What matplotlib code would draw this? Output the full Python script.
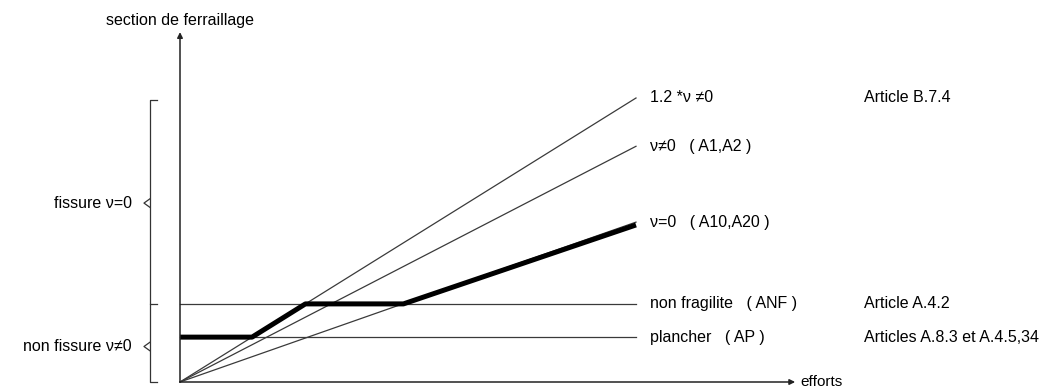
import matplotlib.pyplot as plt

# effort axis normalised so the labelled lines end at x = 1
x_end = [0.0, 1.0]

# reinforcement section (same normalisation)
y_12nu = [0.0, 1.0]     # 1.2 * nu != 0
y_nu = [0.0, 0.83]      # nu != 0  (A1, A2)
y_nu0 = [0.0, 0.563]    # nu = 0   (A10, A20)
y_anf = 0.275           # non fragilite
y_ap = 0.158            # plancher

# governing section (thick line) breakpoints
gov_x = [0.0, 0.158, 0.275, 0.49, 1.0]
gov_y = [0.158, 0.158, 0.275, 0.275, 0.553]

line_labels = ["1.2 *ν ≠0", "ν≠0   ( A1,A2 )", "ν=0   ( A10,A20 )",
               "non fragilite   ( ANF )", "plancher   ( AP )"]
articles = ["Article B.7.4", "", "", "Article A.4.2", "Articles A.8.3 et A.4.5,34"]

plt.rcParams['font.family'] = ['Liberation Sans', 'DejaVu Sans']

fig = plt.figure(figsize=(10.44, 3.88), dpi=100)
ax = fig.add_axes([0, 0, 1, 1])
ax.set_xlim(-180 / 456, 864 / 456)
ax.set_ylim(-6 / 284, 382 / 284)
ax.axis('off')

thin = dict(color='#3a3a3a', lw=0.9)
ax.plot(x_end, y_12nu, **thin)
ax.plot(x_end, y_nu, **thin)
ax.plot(x_end, y_nu0, **thin)
ax.plot(x_end, [y_anf, y_anf], **thin)
ax.plot(x_end, [y_ap, y_ap], **thin)
ax.plot(gov_x, gov_y, color='black', lw=3.6, solid_capstyle='butt')

# axes with arrows
arrow = dict(arrowstyle='-|>', color='#222222', lw=1.1, mutation_scale=8,
             shrinkA=0, shrinkB=0)
ax.annotate('', xy=(0, 1.232), xytext=(0, 0), arrowprops=arrow)
ax.annotate('', xy=(1.349, 0), xytext=(0, 0), arrowprops=arrow)
ax.text(0, 1.272, "section de ferraillage", ha='center', va='center', fontsize=11.5)
ax.text(1.36, 0, "efforts", ha='left', va='center', fontsize=11)

# labels at the end of the lines
fs = 11.5
ends = [y_12nu[1], y_nu[1], y_nu0[1], y_anf, y_ap]
for yv, lab, art in zip(ends, line_labels, articles):
    ax.text(1.03, yv, lab, ha='left', va='center', fontsize=fs)
    if art:
        ax.text(1.5, yv, art, ha='left', va='center', fontsize=fs)

# left braces
bx, tx, cx = -0.066, -0.05, -0.079
top = (382 - 100) / 284
ax.plot([tx, bx, bx, tx], [top, top, y_anf, y_anf], color='#333333', lw=0.9)
ax.plot([bx, cx, bx], [0.645, 0.63, 0.615], color='#333333', lw=0.9)
ax.plot([bx, bx, tx], [y_anf, 0, 0], color='#333333', lw=0.9)
ax.plot([bx, cx, bx], [0.14, 0.125, 0.11], color='#333333', lw=0.9)
ax.text(-0.105, 0.63, "fissure ν=0", ha='right', va='center', fontsize=fs)
ax.text(-0.105, 0.125, "non fissure ν≠0", ha='right', va='center', fontsize=fs)

fig.savefig('out.png', dpi=100)
